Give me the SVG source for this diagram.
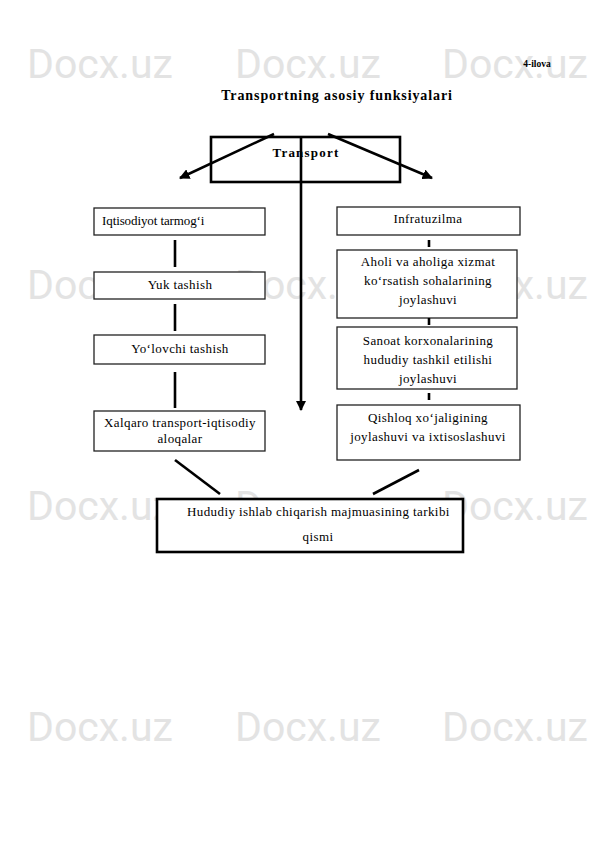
<svg xmlns="http://www.w3.org/2000/svg" width="595" height="842" viewBox="0 0 595 842">
<style>
.wm{font-family:Roboto,"Noto Sans",sans-serif;font-size:41px;fill:#e3e3e3}
.t{font-family:"Liberation Serif","Times New Roman",serif;font-size:13px;letter-spacing:0.4px;fill:#000}
.c{text-anchor:middle}
.b{font-family:"Liberation Serif","Times New Roman",serif;font-weight:bold;fill:#000}
.box{fill:#fff;stroke:#222;stroke-width:1.3}
.tbox{fill:#fff;stroke:#000;stroke-width:2.6}
.ln{stroke:#000;stroke-width:2.6;fill:none}
</style>
<defs>
<marker id="ah" viewBox="0 0 10 10" refX="9" refY="5" markerWidth="4" markerHeight="4" orient="auto" markerUnits="strokeWidth">
<path d="M0,0 L10,5 L0,10 z" fill="#000"/>
</marker>
</defs>
<rect width="595" height="842" fill="#fff"/>
<g id="watermark">
<text class="wm" x="27" y="78">Docx.uz</text>
<text class="wm" x="235" y="78">Docx.uz</text>
<text class="wm" x="442" y="78">Docx.uz</text>
<text class="wm" x="27" y="299">Docx.uz</text>
<text class="wm" x="235" y="299">Docx.uz</text>
<text class="wm" x="442" y="299">Docx.uz</text>
<text class="wm" x="27" y="520">Docx.uz</text>
<text class="wm" x="235" y="520">Docx.uz</text>
<text class="wm" x="442" y="520">Docx.uz</text>
<text class="wm" x="27" y="741">Docx.uz</text>
<text class="wm" x="235" y="741">Docx.uz</text>
<text class="wm" x="442" y="741">Docx.uz</text>
</g>
<text class="b" x="537" y="67" font-size="9.5" text-anchor="middle">4-ilova</text>
<text class="b" x="337" y="100" font-size="14" letter-spacing="0.9" text-anchor="middle">Transportning asosiy funksiyalari</text>
<g id="transport">
<rect class="tbox" x="211" y="137" width="189" height="45"/>
<text class="b" x="306" y="157" font-size="13" letter-spacing="1.2" text-anchor="middle">Transport</text>
</g>
<g id="iqtisodiyot">
<rect class="box" x="94" y="208" width="171" height="27"/>
<text class="t" x="102" y="225" style="letter-spacing:-0.1px">Iqtisodiyot tarmog‘i</text>
</g>
<g id="yuk">
<rect class="box" x="94" y="272" width="171" height="27"/>
<text class="t c" x="180" y="289">Yuk tashish</text>
</g>
<g id="yolovchi">
<rect class="box" x="94" y="335" width="171" height="29"/>
<text class="t c" x="180" y="353">Yo‘lovchi tashish</text>
</g>
<g id="xalqaro">
<rect class="box" x="94" y="411" width="171" height="40"/>
<text class="t c" x="180" y="427">Xalqaro transport-iqtisodiy</text>
<text class="t c" x="180" y="443">aloqalar</text>
</g>
<g id="infratuzilma">
<rect class="box" x="337" y="207" width="183" height="28"/>
<text class="t c" x="428" y="223">Infratuzilma</text>
</g>
<g id="aholi">
<rect class="box" x="337" y="250" width="180" height="68"/>
<text class="t c" x="428" y="266">Aholi va aholiga xizmat</text>
<text class="t c" x="428" y="285">ko‘rsatish sohalarining</text>
<text class="t c" x="428" y="304">joylashuvi</text>
</g>
<g id="sanoat">
<rect class="box" x="337" y="327" width="180" height="62"/>
<text class="t c" x="428" y="345">Sanoat korxonalarining</text>
<text class="t c" x="428" y="364">hududiy tashkil etilishi</text>
<text class="t c" x="428" y="383">joylashuvi</text>
</g>
<g id="qishloq">
<rect class="box" x="337" y="405" width="183" height="55"/>
<text class="t c" x="428" y="422">Qishloq xo‘jaligining</text>
<text class="t c" x="428" y="441">joylashuvi va ixtisoslashuvi</text>
</g>
<g id="hududiy">
<rect class="tbox" x="157" y="499" width="306" height="53"/>
<text class="t" x="187" y="516">Hududiy ishlab chiqarish majmuasining tarkibi</text>
<text class="t c" x="318" y="541">qismi</text>
</g>
<g id="connectors">
<line class="ln" x1="301" y1="136" x2="301" y2="410" marker-end="url(#ah)"/>
<line class="ln" x1="274" y1="134" x2="180" y2="178" marker-end="url(#ah)"/>
<line class="ln" x1="328" y1="134" x2="432" y2="178" marker-end="url(#ah)"/>
<line class="ln" x1="175" y1="240" x2="175" y2="267"/>
<line class="ln" x1="175" y1="304" x2="175" y2="331"/>
<line class="ln" x1="175" y1="372" x2="175" y2="408"/>
<line class="ln" x1="429" y1="240" x2="429" y2="247"/>
<line class="ln" x1="429" y1="318" x2="429" y2="325"/>
<line class="ln" x1="429" y1="393" x2="429" y2="400"/>
<line class="ln" x1="175" y1="460" x2="220" y2="494"/>
<line class="ln" x1="419" y1="470" x2="373" y2="494"/>
</g>
</svg>
